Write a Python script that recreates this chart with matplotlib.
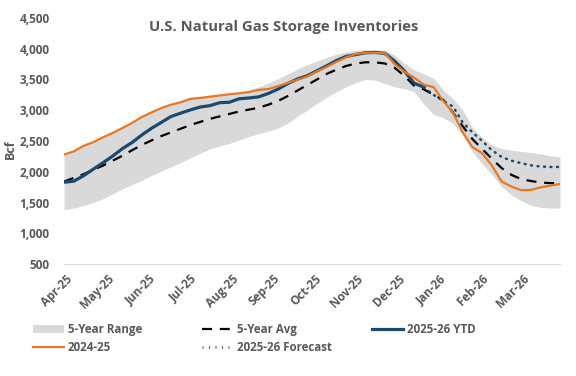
import matplotlib.pyplot as plt
import numpy as np
from matplotlib.patches import Patch
from matplotlib.lines import Line2D

plt.rcParams['font.family'] = ['Open Sans', 'DejaVu Sans']
plt.rcParams['font.weight'] = 'bold'

months = ['Apr-25', 'May-25', 'Jun-25', 'Jul-25', 'Aug-25', 'Sep-25',
          'Oct-25', 'Nov-25', 'Dec-25', 'Jan-26', 'Feb-26', 'Mar-26']

# weekly storage, Bcf (52 weeks, Apr to Mar)
range_low = [1380, 1410, 1450, 1500, 1560, 1640, 1720, 1790, 1860, 1940,
             2010, 2080, 2150, 2230, 2300, 2370, 2420, 2460, 2520, 2570,
             2620, 2660, 2710, 2790, 2900, 3000, 3110, 3210, 3300, 3380,
             3450, 3500, 3490, 3430, 3380, 3350, 3300, 3100, 2930, 2880,
             2780, 2600, 2320, 2130, 1950, 1760, 1620, 1530, 1460, 1420,
             1410, 1410]
range_high = [2290, 2340, 2430, 2490, 2570, 2640, 2720, 2805, 2900, 2975,
              3045, 3100, 3140, 3195, 3210, 3230, 3250, 3270, 3300, 3330,
              3380, 3440, 3510, 3590, 3670, 3740, 3800, 3860, 3910, 3950,
              3975, 3985, 3985, 3975, 3900, 3760, 3660, 3590, 3520, 3330,
              3190, 3000, 2720, 2560, 2430, 2380, 2350, 2330, 2315, 2290,
              2260, 2240]
avg_5yr = [1840, 1900, 1960, 2030, 2100, 2180, 2260, 2350, 2435, 2510,
           2580, 2640, 2700, 2760, 2810, 2860, 2900, 2940, 2980, 3010,
           3040, 3090, 3150, 3230, 3320, 3410, 3500, 3590, 3660, 3720,
           3760, 3780, 3780, 3760, 3690, 3560, 3400, 3340, 3250, 3170,
           2960, 2740, 2530, 2370, 2210, 2060, 1950, 1880, 1850, 1825,
           1815, 1815]
prior_year = [2280, 2330, 2420, 2480, 2560, 2630, 2710, 2795, 2890, 2965,
              3035, 3090, 3130, 3185, 3200, 3220, 3240, 3260, 3275, 3295,
              3330, 3345, 3390, 3445, 3495, 3550, 3630, 3705, 3785, 3860,
              3915, 3935, 3935, 3930, 3750, 3625, 3530, 3415, 3375, 3150,
              2960, 2640, 2400, 2300, 2100, 1840, 1760, 1700, 1705, 1745,
              1775, 1800]
ytd = [1830, 1846, 1934, 2041, 2145, 2255, 2375, 2476, 2598, 2707,
       2802, 2898, 2953, 3006, 3052, 3075, 3123, 3130, 3186, 3199,
       3217, 3272, 3343, 3433, 3508, 3561, 3641, 3721, 3808, 3875,
       3905, 3935, 3940, 3925, 3800, 3640, 3440, 3375]
forecast = [3375, 3250, 3150, 3060, 2800, 2640, 2500, 2350, 2240, 2180,
            2140, 2105, 2085, 2078, 2078]

weeks = np.arange(len(avg_5yr))
ytd_x = weeks[:len(ytd)]
fc_x = weeks[len(ytd) - 1:]

orange = '#E87722'
navy = '#1B4A6E'
grey_txt = '#595959'

fig = plt.figure(figsize=(5.76, 3.76), dpi=100)
ax = fig.add_axes([64 / 576, 112 / 376, 496 / 576, 246 / 376])

ax.fill_between(weeks, range_low, range_high, color='#D9D9D9', lw=0)
ax.plot(weeks, avg_5yr, color='black', lw=1.6, dashes=(4.5, 3.5))
ax.plot(fc_x, forecast, color=navy, lw=1.8, ls=(0, (0.4, 2.2)),
        dash_capstyle='round')
ax.plot(ytd_x, ytd, color=navy, lw=2.3)
ax.plot(weeks, prior_year, color=orange, lw=1.6)

ax.set_xlim(0, len(weeks) - 1)
ax.set_ylim(500, 4500)
ax.set_yticks(np.arange(500, 4501, 500))
ax.set_yticklabels([f'{v:,}' for v in range(500, 4501, 500)])
ax.set_xticks(np.arange(len(months)) * 4.27 + 0.2)
ax.set_xticklabels(months, rotation=45, ha='right', va='top',
                   rotation_mode='anchor')

for s in ['top', 'right', 'left']:
    ax.spines[s].set_visible(False)
ax.spines['bottom'].set_color('#D9D9D9')
ax.tick_params(length=0, labelsize=8.5, labelcolor=grey_txt)
ax.tick_params(axis='x', pad=6)
ax.tick_params(axis='y', pad=10.5)

fig.text(10 / 576, 1 - 149 / 376, 'Bcf', rotation=90, ha='center',
         va='center', fontsize=9, color=grey_txt)
fig.text(0.493, 0.928, 'U.S. Natural Gas Storage Inventories',
         ha='center', va='center', fontsize=10.7, color=grey_txt)

# legend, three fixed-width columns
h_range = Patch(facecolor='#D9D9D9', edgecolor='none')
h_prior = Line2D([], [], color=orange, lw=1.6)
h_avg = Line2D([], [], color='black', lw=1.6, dashes=(4.5, 3.5))
h_fc = Line2D([], [], color=navy, lw=1.8, ls=(0, (0.4, 2.2)))
h_ytd = Line2D([], [], color=navy, lw=2.3)

cols = [([h_range, h_prior], ['5-Year Range', '2024-25'], 33),
        ([h_avg, h_fc], ['5-Year Avg', '2025-26 Forecast'], 202),
        ([h_ytd], ['2025-26 YTD'], 372)]
for hs, ls_, x0 in cols:
    fig.legend(hs, ls_, loc='upper left', bbox_to_anchor=(x0 / 576, 1 - 323 / 376),
               frameon=False, fontsize=8.3, handlelength=2.7, handletextpad=0.3,
               borderpad=0, borderaxespad=0, labelspacing=0.45,
               labelcolor=grey_txt)

fig.savefig('out.png', dpi=100)
